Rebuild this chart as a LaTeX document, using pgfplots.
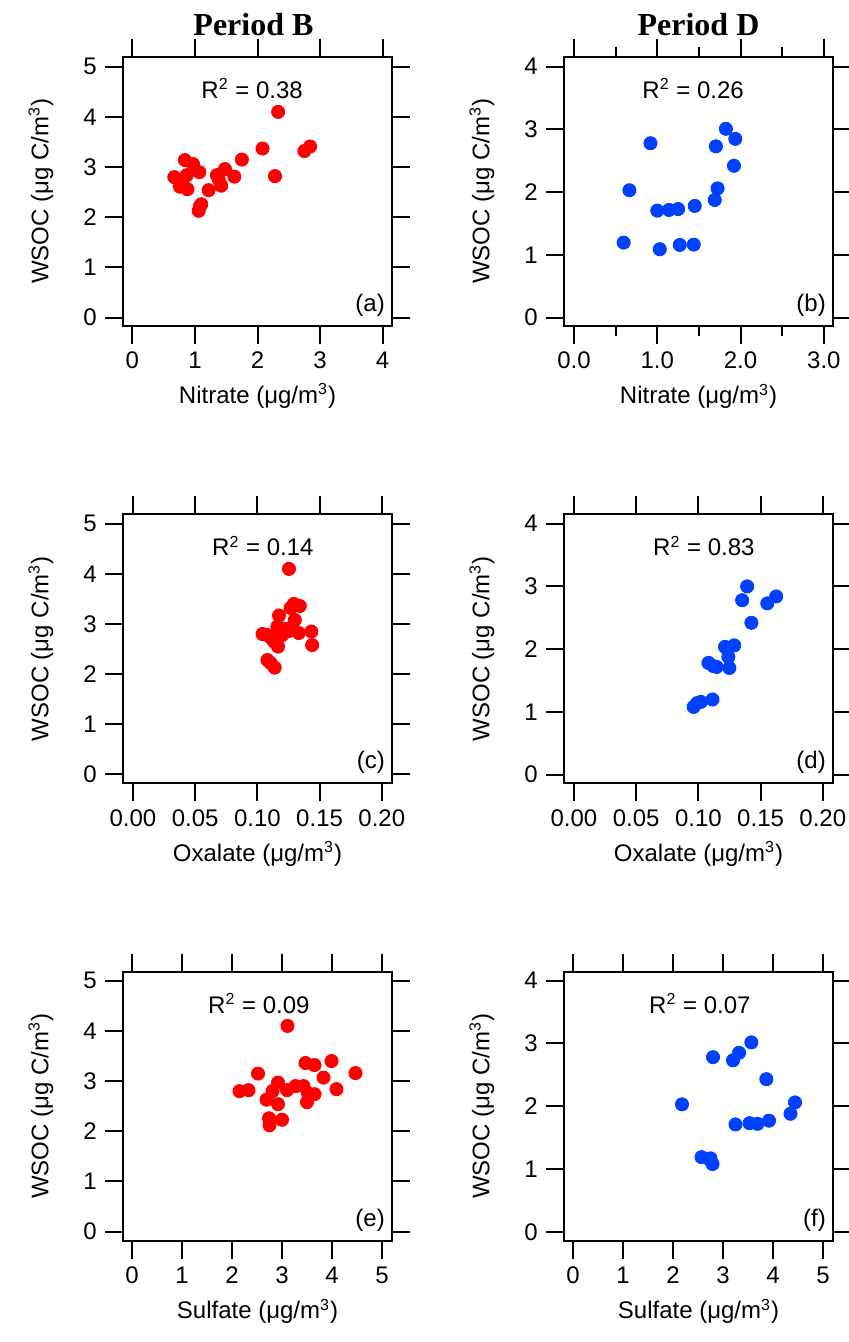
\documentclass[border=0pt]{standalone}
\usepackage{fontspec}
\setmainfont{Liberation Sans}
\newfontfamily\titlefont{Liberation Serif}
\usepackage{pgfplots}
\pgfplotsset{compat=1.18}

\definecolor{ptred}{RGB}{255,0,0}
\definecolor{ptblue}{RGB}{0,64,255}

\pgfplotsset{
  panel/.style={
    scale only axis, width=134.5pt, height=134.5pt,
    clip=false,
    axis line style={line width=1pt},
    every tick/.style={line width=1pt, black},
    major tick length=9pt, minor tick length=5pt,
    tick align=outside,
    /pgf/number format/assume math mode=true,
    ylabel style={at={(axis description cs:-0.305,0.5)}, anchor=center},
    xlabel style={at={(axis description cs:0.5,-0.29)}, anchor=base},
    ylabel={WSOC (μg C/m\textsuperscript{3})},
  },
  redpts/.style={only marks, mark=*, mark size=3.3pt, color=ptred},
  bluepts/.style={only marks, mark=*, mark size=3.3pt, color=ptblue},
}
\newcommand{\rsq}[2]{\node[anchor=base] at (rel axis cs:#1,1) [yshift=-20.8pt] {R\textsuperscript{2} = #2};}
\newcommand{\tag}[1]{\node[anchor=south east, inner sep=0pt] at (rel axis cs:1,0) [xshift=-3.4pt, yshift=4.5pt] {(#1)};}

\begin{document}
\fontsize{12}{14}\selectfont
\begin{tikzpicture}
\path[use as bounding box] (0,0) rectangle (424pt,-671pt);

% ---- Period B, nitrate
\begin{axis}[panel, at={(61.5pt,-28.35pt)}, anchor=north west,
  xmin=-0.15, xmax=4.15, ymin=-0.16, ymax=5.2,
  xtick={0,1,2,3,4}, ytick={0,1,2,3,4,5},
  xlabel={Nitrate (μg/m\textsuperscript{3})}]
  \addplot[redpts] coordinates {
    (2.33,4.10) (2.08,3.37) (2.75,3.32) (2.84,3.41) (1.75,3.15) (0.84,3.14)
    (0.97,3.06) (1.48,2.96) (1.07,2.90) (0.67,2.80) (0.87,2.84) (1.35,2.84)
    (1.63,2.81) (2.28,2.82) (0.76,2.61) (0.88,2.56) (1.42,2.63) (1.22,2.54)
    (1.10,2.26) (1.06,2.13) (0.80,2.74) (1.38,2.76) (1.08,2.22)};
  \rsq{0.48}{0.38}
  \tag{a}
  \node[anchor=base, font=\titlefont\bfseries\fontsize{16}{18}\selectfont] at (rel axis cs:0.485,1) [yshift=10.4pt] {Period B};
\end{axis}

% ---- Period D, nitrate
\begin{axis}[panel, at={(282pt,-28.35pt)}, anchor=north west,
  xmin=-0.12, xmax=3.11, ymin=-0.13, ymax=4.16,
  xtick={0,1,2,3}, xticklabels={0.0,1.0,2.0,3.0}, minor x tick num=1,
  ytick={0,1,2,3,4},
  xlabel={Nitrate (μg/m\textsuperscript{3})}]
  \addplot[bluepts] coordinates {
    (1.824,3.01) (1.937,2.85) (0.918,2.78) (1.704,2.73) (1.921,2.42) (0.665,2.03)
    (1.724,2.06) (1.69,1.875) (1.45,1.78) (1.0,1.705) (1.14,1.716) (1.25,1.73)
    (0.596,1.195) (1.03,1.09) (1.27,1.158) (1.438,1.163)};
  \rsq{0.48}{0.26}
  \tag{b}
  \node[anchor=base, font=\titlefont\bfseries\fontsize{16}{18}\selectfont] at (rel axis cs:0.5,1) [yshift=10.4pt] {Period D};
\end{axis}

% ---- Period B, oxalate
\begin{axis}[panel, at={(61.5pt,-257.15pt)}, anchor=north west,
  xmin=-0.008, xmax=0.2082, ymin=-0.18, ymax=5.19,
  xtick={0,0.05,0.10,0.15,0.20}, xticklabels={0.00,0.05,0.10,0.15,0.20},
  ytick={0,1,2,3,4,5},
  xlabel={Oxalate (μg/m\textsuperscript{3})}]
  \addplot[redpts] coordinates {
    (0.1254,4.10) (0.1293,3.40) (0.1341,3.36) (0.1267,3.32) (0.1174,3.17) (0.1301,3.08)
    (0.1041,2.80) (0.1161,2.95) (0.1214,2.90) (0.1253,2.86) (0.1333,2.82) (0.1434,2.85)
    (0.1440,2.58) (0.1107,2.73) (0.1134,2.65) (0.1166,2.55) (0.1081,2.28) (0.1139,2.13)
    (0.1107,2.22) (0.1200,2.78) (0.1267,2.92) (0.1081,2.78)};
  \rsq{0.52}{0.14}
  \tag{c}
\end{axis}

% ---- Period D, oxalate
\begin{axis}[panel, at={(282pt,-257.15pt)}, anchor=north west,
  xmin=-0.008, xmax=0.2082, ymin=-0.14, ymax=4.15,
  xtick={0,0.05,0.10,0.15,0.20}, xticklabels={0.00,0.05,0.10,0.15,0.20},
  ytick={0,1,2,3,4},
  xlabel={Oxalate (μg/m\textsuperscript{3})}]
  \addplot[bluepts] coordinates {
    (0.1392,3.00) (0.1352,2.78) (0.1554,2.73) (0.1625,2.84) (0.1426,2.42) (0.1214,2.035)
    (0.1288,2.06) (0.1241,1.875) (0.1249,1.70) (0.1081,1.78) (0.1147,1.716) (0.1120,1.73)
    (0.1113,1.196) (0.1020,1.158) (0.0962,1.078) (0.0990,1.14)};
  \rsq{0.52}{0.83}
  \tag{d}
\end{axis}

% ---- Period B, sulfate
\begin{axis}[panel, at={(61.5pt,-485.85pt)}, anchor=north west,
  xmin=-0.18, xmax=5.2, ymin=-0.18, ymax=5.18,
  xtick={0,1,2,3,4,5}, ytick={0,1,2,3,4,5},
  xlabel={Sulfate (μg/m\textsuperscript{3})}]
  \addplot[redpts] coordinates {
    (3.11,4.10) (3.47,3.36) (3.65,3.32) (3.99,3.40) (4.47,3.16) (2.52,3.15)
    (3.83,3.07) (2.15,2.80) (2.33,2.82) (2.92,2.97) (2.81,2.80) (3.10,2.82)
    (3.27,2.90) (3.43,2.90) (3.65,2.74) (3.52,2.76) (4.09,2.84) (2.69,2.63)
    (3.50,2.58) (2.92,2.54) (2.74,2.26) (2.75,2.12) (3.00,2.23)};
  \rsq{0.505}{0.09}
  \tag{e}
\end{axis}

% ---- Period D, sulfate
\begin{axis}[panel, at={(282pt,-485.85pt)}, anchor=north west,
  xmin=-0.18, xmax=5.2, ymin=-0.14, ymax=4.14,
  xtick={0,1,2,3,4,5}, ytick={0,1,2,3,4},
  xlabel={Sulfate (μg/m\textsuperscript{3})}]
  \addplot[bluepts] coordinates {
    (3.567,3.015) (3.32,2.85) (3.2,2.73) (2.8,2.78) (3.867,2.43) (2.18,2.03)
    (4.44,2.06) (4.35,1.88) (3.92,1.77) (3.25,1.71) (3.53,1.73) (3.69,1.72)
    (2.57,1.19) (2.75,1.17) (2.79,1.08) (2.72,1.16)};
  \rsq{0.505}{0.07}
  \tag{f}
\end{axis}
\end{tikzpicture}
\end{document}
